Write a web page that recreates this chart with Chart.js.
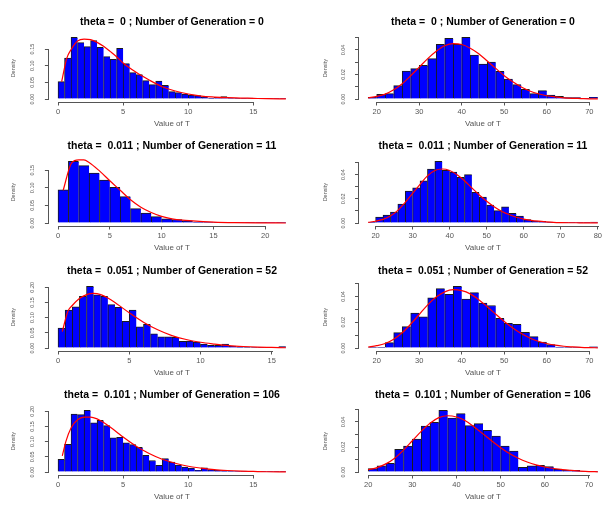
<!DOCTYPE html>
<html><head><meta charset="utf-8">
<script src="https://cdn.jsdelivr.net/npm/chart.js@4"></script>
<style>
html,body{margin:0;padding:0;background:#fff;}
body{width:611px;height:511px;overflow:hidden;position:relative;}
canvas{position:absolute;display:block;}
</style></head>
<body>
<canvas id="c1" width="305" height="130" style="left:0;top:0"></canvas>
<canvas id="c2" width="306" height="130" style="left:305px;top:0"></canvas>
<canvas id="c3" width="305" height="130" style="left:0;top:124px"></canvas>
<canvas id="c4" width="306" height="130" style="left:305px;top:124px"></canvas>
<canvas id="c5" width="305" height="130" style="left:0;top:249px"></canvas>
<canvas id="c6" width="306" height="130" style="left:305px;top:249px"></canvas>
<canvas id="c7" width="305" height="130" style="left:0;top:373px"></canvas>
<canvas id="c8" width="306" height="130" style="left:305px;top:373px"></canvas>
<script>
// ---------- titles ----------
const titles = [
  'theta =  0 ; Number of Generation = 0',
  'theta =  0 ; Number of Generation = 0',
  'theta =  0.011 ; Number of Generation = 11',
  'theta =  0.011 ; Number of Generation = 11',
  'theta =  0.051 ; Number of Generation = 52',
  'theta =  0.051 ; Number of Generation = 52',
  'theta =  0.101 ; Number of Generation = 106',
  'theta =  0.101 ; Number of Generation = 106'
];
const xTitle = 'Value of T';
const yTitle = 'Density';

// ---------- histogram bins (first break and bin width per panel) ----------
const binStarts = [0, 18, 0, 18, 0, 18, 0, 20];
const binWidths = [0.5, 2, 1, 2, 0.5, 2, 0.5, 2];

// ---------- histogram densities ----------
const p1Bars = [0.052,0.123,0.185,0.169,0.157,0.175,0.155,0.127,0.119,0.152,0.106,0.079,0.073,0.055,0.043,0.054,0.041,0.022,0.019,0.015,0.012,0.010,0.006,0.002,0.005,0.007,0.003,0.002,0.002,0.003,0.001,0.001,0.001,0.001,0.002];
const p2Bars = [0.0014,0.0038,0.0044,0.011,0.0229,0.0248,0.0275,0.033,0.0446,0.0495,0.0446,0.0503,0.0359,0.0286,0.0302,0.0226,0.0163,0.0117,0.0079,0.0044,0.0068,0.0033,0.0022,0.0011,0.0011,0.0003,0.0014];
const p3Bars = [0.094,0.175,0.163,0.142,0.122,0.101,0.075,0.041,0.028,0.018,0.012,0.010,0.006,0.003,0.003,0.002,0.001,0.001,0.002,0.002,0.001,0.002];
const p4Bars = [0.0003,0.005,0.0066,0.0091,0.0157,0.0265,0.0292,0.035,0.0447,0.051,0.0436,0.0422,0.0378,0.04,0.0254,0.0215,0.0149,0.0102,0.0135,0.008,0.0058,0.0028,0.0017,0.0014,0.0008,0.0006,0.0003,0.0003,0.0003,0.0003,0.0008];
const p5Bars = [0.066,0.125,0.136,0.170,0.203,0.175,0.170,0.143,0.134,0.088,0.125,0.070,0.078,0.047,0.037,0.037,0.035,0.022,0.023,0.020,0.013,0.009,0.009,0.013,0.0066,0.0033,0.002,0.002,0.001,0.001,0.001,0.0044];
const p6Bars = [0.0005,0.0005,0.0042,0.012,0.0166,0.027,0.0242,0.039,0.046,0.0416,0.0478,0.038,0.0429,0.0348,0.033,0.0231,0.0192,0.0184,0.0122,0.0088,0.0047,0.0026,0.0008,0.0005,0.0008,0.0005,0.001];
const p7Bars = [0.042,0.091,0.191,0.189,0.203,0.162,0.170,0.153,0.113,0.114,0.096,0.090,0.081,0.055,0.038,0.022,0.044,0.033,0.023,0.016,0.013,0.0055,0.014,0.0077,0.0055,0.0044,0.0033,0.0033,0.0033,0.001,0.001,0.001,0.001,0.001,0.001];
const p8Bars = [0.0027,0.005,0.0069,0.0181,0.0208,0.0264,0.0368,0.0397,0.0493,0.0432,0.0467,0.0371,0.0387,0.0333,0.0288,0.0208,0.0168,0.0037,0.005,0.0053,0.0043,0.0024,0.0016,0.0013,0.0005,0.0003];

// ---------- density curves ----------
const p1CurveX = [0.28,0.67,1,1.5,2,2.5,3,3.5,4,4.5,5,6,7,8,9,10,11,12,13,14,15,16,17.5];
const p1CurveY = [0.052,0.122,0.148,0.174,0.180,0.178,0.170,0.158,0.143,0.127,0.108,0.080,0.057,0.037,0.024,0.015,0.009,0.006,0.004,0.003,0.002,0.001,0.0005];
const p2CurveX = [18,20,22,24,26,28,30,32,34,36,38,40,42,44,46,48,50,52,54,56,58,60,62,64,66,68,70,72];
const p2CurveY = [0.001,0.0022,0.004,0.0075,0.0125,0.019,0.026,0.033,0.039,0.0435,0.0452,0.0445,0.0415,0.037,0.031,0.025,0.019,0.014,0.0098,0.0066,0.0043,0.0027,0.0017,0.001,0.0006,0.0004,0.0002,0.0001];
const p3CurveX = [0.5,1.3,2,2.5,3,4,5,6,7,8,9,10,11,12,13,14,15,17,20,22];
const p3CurveY = [0.093,0.170,0.179,0.179,0.172,0.148,0.12,0.093,0.066,0.045,0.030,0.019,0.012,0.008,0.006,0.004,0.0025,0.001,0.0003,0.0001];
const p4CurveX = [18,20,22,24,26,28,30,32,34,36,38,40,42,44,46,48,50,52,54,56,58,60,62,64,66,68,70,75,80];
const p4CurveY = [0.0006,0.0015,0.003,0.0058,0.0105,0.017,0.0245,0.032,0.039,0.0435,0.0447,0.0435,0.04,0.035,0.029,0.0232,0.018,0.0135,0.0098,0.007,0.0048,0.0033,0.0022,0.0015,0.001,0.0006,0.0004,0.0002,0.0001];
const p5CurveX = [0.3,0.7,1,1.5,2,2.5,3,3.5,4,4.5,5,6,7,8,9,10,11,12,13,14,15,16];
const p5CurveY = [0.054,0.122,0.14,0.163,0.176,0.18,0.176,0.165,0.15,0.133,0.116,0.085,0.06,0.041,0.028,0.019,0.013,0.008,0.005,0.003,0.002,0.001];
const p6CurveX = [18,20,22,24,26,28,30,32,34,36,38,40,42,44,46,48,50,52,54,56,58,60,62,64,66,68,70,72];
const p6CurveY = [0.0008,0.0018,0.0035,0.0068,0.0118,0.0185,0.026,0.0335,0.0395,0.0435,0.0452,0.0445,0.042,0.0375,0.032,0.0262,0.0205,0.0155,0.0112,0.0078,0.0053,0.0035,0.0022,0.0014,0.0009,0.0005,0.0003,0.0002];
const p7CurveX = [0.33,0.6,1,1.5,2,2.5,3,3.5,4,4.5,5,6,7,8,9,10,11,12,13,14,15,16,17.5];
const p7CurveY = [0.053,0.1,0.145,0.172,0.181,0.181,0.175,0.163,0.148,0.132,0.115,0.085,0.061,0.042,0.029,0.019,0.013,0.008,0.005,0.003,0.002,0.001,0.0005];
const p8CurveX = [20,22,24,26,28,30,32,34,36,38,40,42,44,46,48,50,52,54,56,58,60,62,64,66,68,70,72];
const p8CurveY = [0.0018,0.0035,0.0065,0.011,0.0175,0.025,0.0325,0.039,0.0435,0.045,0.044,0.041,0.036,0.0305,0.0248,0.0195,0.0148,0.011,0.008,0.0057,0.004,0.0028,0.0019,0.0013,0.0008,0.0004,0.0002];

// ---------- axis ticks ----------
const xTicksA = [0,5,10,15];
const xTicksB = [20,30,40,50,60,70];
const xTicksC = [0,5,10,15,20];
const xTicksD = [20,30,40,50,60,70,80];
const yTicksA = [0,0.05,0.10,0.15];
const yLabelsA = ['0.00','0.05','0.10','0.15'];
const yTicksB = [0,0.05,0.10,0.15,0.20];
const yLabelsB = ['0.00','0.05','0.10','0.15','0.20'];
const yTicksC = [0,0.01,0.02,0.03,0.04,0.05];
const yLabelsC = ['0.00','','0.02','','0.04',''];

const panels = [
  {id:'c1', col:0, bars:p1Bars, cx:p1CurveX, cy:p1CurveY, xt:xTicksA, yt:yTicksA, yl:yLabelsA},
  {id:'c2', col:1, bars:p2Bars, cx:p2CurveX, cy:p2CurveY, xt:xTicksB, yt:yTicksC, yl:yLabelsC},
  {id:'c3', col:0, bars:p3Bars, cx:p3CurveX, cy:p3CurveY, xt:xTicksC, yt:yTicksA, yl:yLabelsA},
  {id:'c4', col:1, bars:p4Bars, cx:p4CurveX, cy:p4CurveY, xt:xTicksD, yt:yTicksC, yl:yLabelsC},
  {id:'c5', col:0, bars:p5Bars, cx:p5CurveX, cy:p5CurveY, xt:xTicksA, yt:yTicksB, yl:yLabelsB},
  {id:'c6', col:1, bars:p6Bars, cx:p6CurveX, cy:p6CurveY, xt:xTicksB, yt:yTicksC, yl:yLabelsC},
  {id:'c7', col:0, bars:p7Bars, cx:p7CurveX, cy:p7CurveY, xt:xTicksA, yt:yTicksB, yl:yLabelsB},
  {id:'c8', col:1, bars:p8Bars, cx:p8CurveX, cy:p8CurveY, xt:xTicksB, yt:yTicksC, yl:yLabelsC}
];

const FONT = "'Liberation Sans', Arial, Helvetica, sans-serif";
const AXIS_COLOR = '#555';
const TEXT_COLOR = '#555';

// R-style axis line spanning only first..last tick
const rAxisPlugin = {
  id: 'rAxis',
  afterDraw(chart) {
    const ctx = chart.ctx;
    const xs = chart.scales.x, ys = chart.scales.y;
    ctx.save();
    ctx.strokeStyle = AXIS_COLOR;
    ctx.lineWidth = 1;
    const xt = xs.ticks, yt = ys.ticks;
    const yb = Math.round(chart.chartArea.bottom) + 0.5;
    ctx.beginPath();
    ctx.moveTo(Math.round(xs.getPixelForValue(xt[0].value)), yb);
    ctx.lineTo(Math.round(xs.getPixelForValue(xt[xt.length-1].value)) + 1, yb);
    ctx.stroke();
    const xl = Math.round(chart.chartArea.left) - 0.5;
    ctx.beginPath();
    ctx.moveTo(xl, Math.round(ys.getPixelForValue(yt[0].value)) + 1);
    ctx.lineTo(xl, Math.round(ys.getPixelForValue(yt[yt.length-1].value)));
    ctx.stroke();
    ctx.restore();
  }
};

panels.forEach((p, k) => {
  const start = binStarts[k], w = binWidths[k];
  const n = p.bars.length;
  const lo = start, hi = start + n * w;
  const maxBar = Math.max(...p.bars);
  const barData = p.bars.map((v, i) => ({x: start + (i + 0.5) * w, y: v}));
  const curveData = p.cx.map((x, i) => ({x: x, y: p.cy[i]}));
  const yAxisW = p.col === 0 ? 48.9 : 54;
  const padRight = p.col === 0 ? 10 : 4;
  new Chart(document.getElementById(p.id), {
    type: 'bar',
    data: {
      datasets: [
        {type:'line', data: curveData, borderColor:'#ff0000', borderWidth:1.2,
         pointRadius:0, cubicInterpolationMode:'monotone', fill:false, order:0},
        {type:'bar', data: barData, backgroundColor:'#0000ff', borderColor:'#1a1a1a',
         borderWidth:{left:1, top:1, right:0, bottom:0}, borderSkipped:false,
         categoryPercentage:1, barPercentage:1, order:1}
      ]
    },
    options: {
      responsive:false, maintainAspectRatio:false, animation:false, devicePixelRatio:1,
      layout:{padding:{left:0, right:padRight, top:0, bottom:0}},
      plugins:{
        legend:{display:false}, tooltip:{enabled:false},
        title:{display:true, text:titles[k], fullSize:false, color:'#000',
               font:{family:FONT, size:10.5, weight:'bold'}, padding:{top:15.8, bottom:6.5}}
      },
      scales:{
        x:{type:'linear', min: lo - 0.04*(hi-lo), max: hi + 0.04*(hi-lo), offset:false,
           afterBuildTicks: s => { s.ticks = p.xt.map(v => ({value:v})); },
           ticks:{autoSkip:false, minRotation:0, maxRotation:0, padding:1.7, color:TEXT_COLOR,
                  font:{family:FONT, size:7.5}, callback: v => String(v)},
           grid:{drawOnChartArea:false, drawTicks:true, tickLength:4, color:AXIS_COLOR, offset:false},
           border:{display:false},
           title:{display:true, text:xTitle, color:TEXT_COLOR, font:{family:FONT, size:8}, padding:{top:0, bottom:1.9}},
           afterFit: s => { s.height = 28.5; }
        },
        y:{type:'linear', min: -0.04*maxBar, max: 1.04*maxBar,
           afterBuildTicks: s => { s.ticks = p.yt.map(v => ({value:v})); },
           ticks:{autoSkip:false, minRotation:90, maxRotation:90, crossAlign:'center', padding:6.6,
                  color:TEXT_COLOR, font:{family:FONT, size:5.5}, callback: (v, i) => p.yl[i]},
           grid:{drawOnChartArea:false, drawTicks:true, tickLength:4, color:AXIS_COLOR},
           border:{display:false},
           title:{display:true, text:yTitle, color:TEXT_COLOR, font:{family:FONT, size:5.5},
                  padding:{top: p.col === 0 ? 10 : 16.7, bottom:0}},
           afterFit: s => { s.width = yAxisW; }
        }
      }
    },
    plugins:[rAxisPlugin]
  });
});
</script>
</body></html>
